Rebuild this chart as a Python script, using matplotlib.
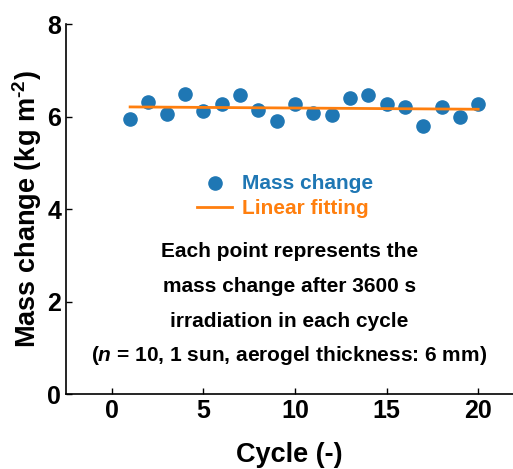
import numpy as np
import matplotlib.pyplot as plt

plt.rcParams['font.family'] = ['Liberation Sans', 'DejaVu Sans']
plt.rcParams['font.weight'] = 'bold'
plt.rcParams['mathtext.fontset'] = 'custom'
plt.rcParams['mathtext.rm'] = 'Liberation Sans:bold'
plt.rcParams['mathtext.bf'] = 'Liberation Sans:bold'
plt.rcParams['mathtext.it'] = 'Liberation Sans:bold:italic'

# mass change per cycle (kg m^-2)
cycle = np.arange(1, 21)
mass_change = [5.94, 6.31, 6.05, 6.49, 6.12, 6.26, 6.46, 6.15, 5.90, 6.27,
               6.07, 6.04, 6.39, 6.46, 6.26, 6.21, 5.80, 6.21, 5.99, 6.26]

slope, intercept = np.polyfit(cycle, mass_change, 1)
fit = slope * cycle + intercept

fig = plt.figure(figsize=(5.13, 4.69), dpi=100)
ax = fig.add_axes([66 / 513, 1 - 394 / 469, (513 - 66) / 513, (394 - 24) / 469])

ax.scatter(cycle, mass_change, s=90, color='#1f77b4', label='Mass change', zorder=3)
ax.plot(cycle, fit, color='#ff7f0e', lw=2, label='Linear fitting', zorder=4)

ax.set_xlim(-2.5, 21.9)
ax.set_ylim(0, 8)
ax.set_xticks([0, 5, 10, 15, 20])
ax.set_yticks([0, 2, 4, 6, 8])
ax.tick_params(direction='in', labelsize=18, length=4, width=1)
for s in ['top', 'right']:
    ax.spines[s].set_visible(False)
for s in ['left', 'bottom']:
    ax.spines[s].set_linewidth(1.2)

ax.set_xlabel('Cycle (-)', fontsize=19.5, fontweight='bold', labelpad=14)
ax.set_ylabel('Mass change (kg m$^{\\text{-2}}$)', fontsize=19.5, fontweight='bold', labelpad=2)

leg = ax.legend(loc='center', bbox_to_anchor=(0.49, 0.535), frameon=False, fontsize=15,
                handlelength=1.7, handletextpad=0.45, labelspacing=0.3,
                borderpad=0, borderaxespad=0)
for txt, c in zip(leg.get_texts(), ['#1f77b4', '#ff7f0e']):
    txt.set_color(c)

note = ['Each point represents the',
        'mass change after 3600 s',
        'irradiation in each cycle',
        '($\\mathit{n}$ = 10, 1 sun, aerogel thickness: 6 mm)']
for i, line in enumerate(note):
    ax.text(0.5, 0.384 - i * 0.0935, line, transform=ax.transAxes, ha='center', va='center',
            fontsize=15, fontweight='bold')

fig.savefig('out.png', dpi=100)
